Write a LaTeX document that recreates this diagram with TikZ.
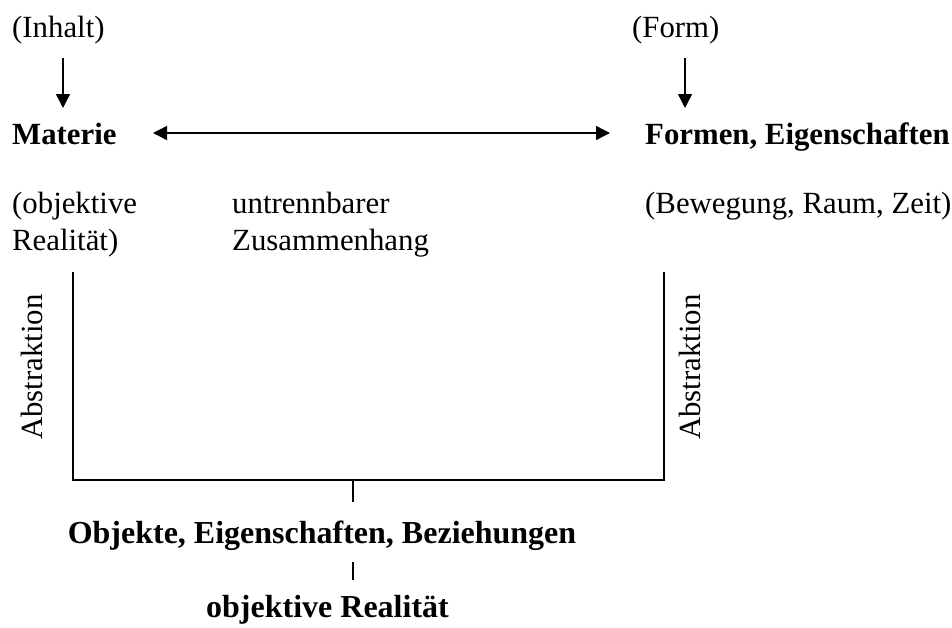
\documentclass[tikz,border=0pt]{standalone}
\usepackage{fontspec}
\setmainfont{Liberation Serif}
\usetikzlibrary{arrows.meta}
\begin{document}
\begin{tikzpicture}[x=1pt,y=-1pt,
  txt/.style={inner sep=0pt,font=\fontsize{30.8}{35}\selectfont},
  btxt/.style={txt,font=\fontsize{30.8}{35}\selectfont\bfseries},
  bbtxt/.style={txt,font=\fontsize{32}{36}\selectfont\bfseries},
  ln/.style={line width=1.4pt},
  arr/.style={ln,-{Triangle[length=14pt,width=14pt]}},
  darr/.style={ln,{Triangle[length=14pt,width=14pt]}-{Triangle[length=14pt,width=14pt]}}]
\useasboundingbox (0,0) rectangle (952,627);
% top labels
\node[txt,anchor=base west] (inhalt) at (12,37) {(Inhalt)};
\node[txt,anchor=base west] (form) at (632,37) {(Form)};
\node[btxt,anchor=base west] (materie) at (12,144) {Materie};
\node[btxt,anchor=base west] (formen) at (645,144) {Formen, Eigenschaften};
\coordinate (a1s) at (63,58);  \coordinate (a1e) at (63,108);
\coordinate (a2s) at (685,58); \coordinate (a2e) at (685,108);
\coordinate (dl) at (153,133); \coordinate (dr) at (610,133);
\draw[arr] (a1s) -- (a1e);
\draw[arr] (a2s) -- (a2e);
\draw[darr] (dl) -- (dr);
% middle labels
\node[txt,anchor=base west] (obj1) at (12,213) {(objektive};
\node[txt,anchor=base west] (obj2) at (12,250) {Realität)};
\node[txt,anchor=base west] (unt1) at (232,213) {untrennbarer};
\node[txt,anchor=base west] (unt2) at (232,250) {Zusammenhang};
\node[txt,anchor=base west] (bew) at (645,213) {(Bewegung, Raum, Zeit)};
% bracket
\coordinate (bl) at (73,272); \coordinate (blb) at (73,480);
\coordinate (br) at (664,272); \coordinate (brb) at (664,480);
\draw[ln] (bl) -- (blb) -- (brb) -- (br);
\node[txt,rotate=90] (abl) at (32,367) {Abstraktion};
\node[txt,rotate=90] (abr) at (690,367) {Abstraktion};
% bottom
\coordinate (t1a) at (353,480); \coordinate (t1b) at (353,502);
\draw[ln] (t1a) -- (t1b);
\node[bbtxt,anchor=base] (oeb) at (322,543) {Objekte, Eigenschaften, Beziehungen};
\coordinate (t2a) at (353,562); \coordinate (t2b) at (353,580);
\draw[ln] (t2a) -- (t2b);
\node[bbtxt,anchor=base] (objr) at (327.5,617) {objektive Realität};
\end{tikzpicture}
\end{document}
